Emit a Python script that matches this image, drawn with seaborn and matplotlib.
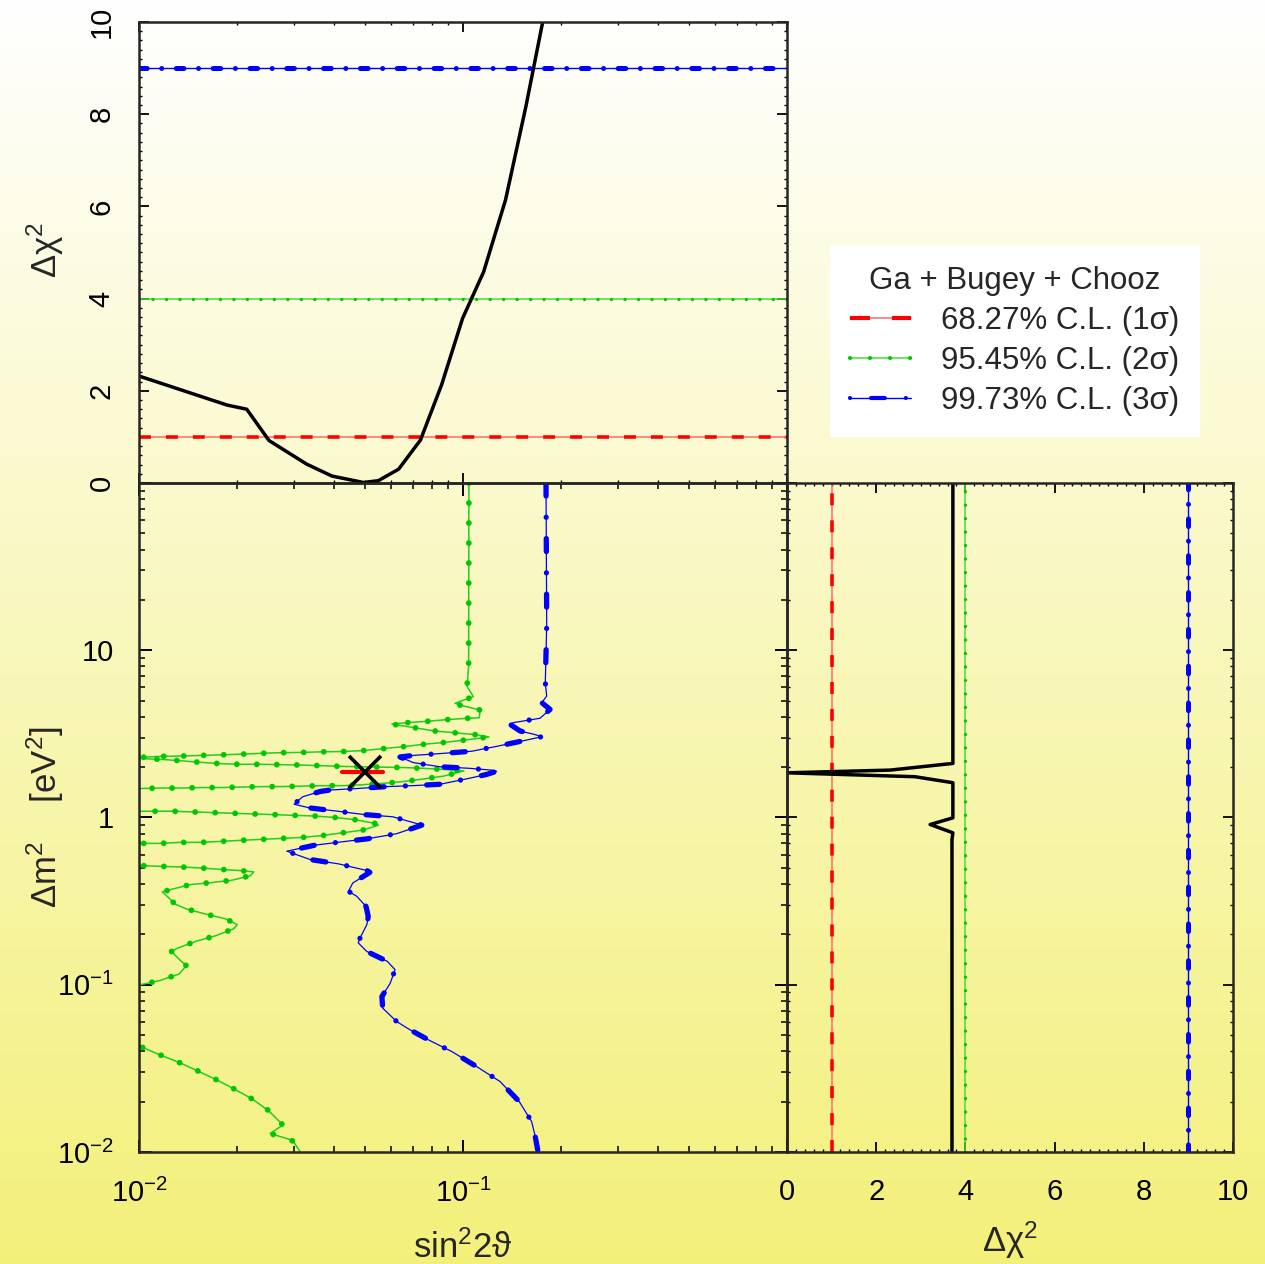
import numpy as np
import pandas as pd
import matplotlib.pyplot as plt
import matplotlib.ticker as mticker
from matplotlib.lines import Line2D
from matplotlib.colors import LinearSegmentedColormap
import seaborn as sns

# ---- values ----
# top panel: marginal delta chi^2 versus sin^2 2theta
prof_s22t = [0.0100, 0.0187, 0.0215, 0.0252, 0.0329, 0.0394, 0.0493, 0.0548, 0.0633,
             0.0739, 0.0859, 0.0997, 0.1158, 0.1353, 0.1563, 0.1762, 0.1850]
prof_chi2 = [2.32, 1.69, 1.60, 0.92, 0.41, 0.15, 0.01, 0.05, 0.30,
             0.93, 2.13, 3.57, 4.58, 6.14, 8.16, 10.0, 11.0]

# right panel: marginal delta chi^2 versus delta m^2
prof_dm2 = [100, 2.105, 1.92, 1.85, 1.753, 1.614, 0.995, 0.908, 0.81, 0.738, 0.01]
prof_chi2_dm = [3.72, 3.72, 2.31, 0.0, 2.87, 3.72, 3.72, 3.21, 3.72, 3.70, 3.70]

# 68.27% contour (tiny island around the best fit)
c1_x = [0.0423, 0.0566]
c1_y = [1.88, 1.88]

# 95.45% contour, main branch (leaves the plot at the left edge several times)
c2_x = [0.1043, 0.1041, 0.1029, 0.1076, 0.0945, 0.0979, 0.1129, 0.1123, 0.1034, 0.0897,
        0.0776, 0.0672, 0.0603, 0.0709, 0.0818, 0.0945, 0.1089, 0.1203, 0.1007, 0.0874,
        0.0756, 0.0654, 0.0566, 0.0490, 0.0425, 0.0368, 0.0318, 0.0276, 0.0238, 0.0206,
        0.0179, 0.0155, 0.0134, 0.0116, 0.0101, 0.0094,
        0.0101, 0.0115, 0.0132, 0.0153, 0.0177, 0.0204, 0.0236, 0.0272, 0.0315, 0.0364,
        0.0425, 0.0490, 0.0561, 0.0647, 0.0747, 0.0861, 0.1007, 0.0874, 0.0756, 0.0654,
        0.0566, 0.0490, 0.0425, 0.0368, 0.0318, 0.0276, 0.0238, 0.0206, 0.0179, 0.0155,
        0.0134, 0.0116, 0.0101, 0.0085,
        0.0101, 0.0110, 0.0127, 0.0146, 0.0169, 0.0195, 0.0226, 0.0261, 0.0301, 0.0349,
        0.0403, 0.0465, 0.0538, 0.0548, 0.0490, 0.0425, 0.0368, 0.0318, 0.0276, 0.0238,
        0.0206, 0.0179, 0.0155, 0.0134, 0.0116, 0.0101, 0.0085,
        0.0101, 0.0114, 0.0132, 0.0153, 0.0177, 0.0204, 0.0226, 0.0221, 0.0193, 0.0167,
        0.0144, 0.0126, 0.0118, 0.0124, 0.0129, 0.0140, 0.0160, 0.0185, 0.0201, 0.0196,
        0.0172, 0.0150, 0.0131, 0.0126, 0.0134, 0.0140, 0.0133, 0.0116, 0.0101, 0.0090]
c2_y = [100, 8.05, 6.08, 5.28, 4.82, 4.70, 4.39, 3.95, 3.92, 3.85,
        3.76, 3.69, 3.62, 3.44, 3.29, 3.21, 3.13, 3.03, 2.90, 2.81,
        2.74, 2.65, 2.58, 2.51, 2.48, 2.47, 2.45, 2.44, 2.42, 2.39,
        2.37, 2.35, 2.33, 2.32, 2.29, 2.27,
        2.25, 2.23, 2.19, 2.14, 2.10, 2.08, 2.08, 2.07, 2.06, 2.04,
        2.02, 2.01, 2.00, 1.99, 1.97, 1.94, 1.90, 1.77, 1.70, 1.64,
        1.60, 1.57, 1.55, 1.55, 1.54, 1.53, 1.53, 1.52, 1.51, 1.51,
        1.50, 1.50, 1.49, 1.25,
        1.09, 1.09, 1.09, 1.08, 1.07, 1.06, 1.05, 1.04, 1.03, 1.02,
        1.00, 0.97, 0.92, 0.90, 0.84, 0.81, 0.78, 0.76, 0.75, 0.74,
        0.73, 0.72, 0.71, 0.71, 0.70, 0.70, 0.60,
        0.516, 0.511, 0.507, 0.500, 0.490, 0.482, 0.473, 0.449, 0.421, 0.408,
        0.397, 0.372, 0.359, 0.329, 0.304, 0.284, 0.265, 0.248, 0.229, 0.216,
        0.196, 0.182, 0.165, 0.158, 0.140, 0.130, 0.116, 0.106, 0.100, 0.095]

# 95.45% contour, low delta m^2 branch
c2b_x = [0.0090, 0.0102, 0.0116, 0.0133, 0.0152, 0.0173, 0.0196, 0.0223, 0.0251, 0.0278,
         0.0254, 0.0291, 0.0299, 0.0316]
c2b_y = [0.047, 0.0424, 0.0381, 0.0343, 0.0305, 0.0271, 0.0239, 0.0208, 0.0177, 0.0145,
         0.0129, 0.0119, 0.0116, 0.0099]

# 99.73% contour
c3_x = [0.1804, 0.1813, 0.1795, 0.1813, 0.1750, 0.1857, 0.1729, 0.1430, 0.1396, 0.1500,
        0.1660, 0.1750, 0.1554, 0.1256, 0.1064, 0.0849, 0.0702, 0.0639, 0.0702, 0.0849,
        0.1038, 0.1226, 0.1270, 0.1184, 0.1038, 0.0849, 0.0700, 0.0581, 0.0472, 0.0389,
        0.0362, 0.0320, 0.0301, 0.0337, 0.0411, 0.0498, 0.0607, 0.0720, 0.0746, 0.0624,
        0.0505, 0.0422, 0.0349, 0.0286, 0.0337, 0.0413, 0.0505, 0.0516, 0.0457, 0.0443,
        0.0470, 0.0502, 0.0510, 0.0505, 0.0481, 0.0475, 0.0505, 0.0584, 0.0617, 0.0596,
        0.0562, 0.0565, 0.0624, 0.0686, 0.0781, 0.0923, 0.1102, 0.1301, 0.1492, 0.1629,
        0.1668, 0.1707]
c3_y = [100, 14.0, 6.41, 5.32, 4.86, 4.43, 3.92, 3.69, 3.61, 3.29,
        3.14, 3.04, 2.89, 2.65, 2.49, 2.41, 2.35, 2.30, 2.13, 2.01,
        1.97, 1.92, 1.89, 1.81, 1.71, 1.58, 1.55, 1.53, 1.49, 1.46,
        1.43, 1.33, 1.20, 1.14, 1.09, 1.04, 1.01, 0.92, 0.90, 0.80,
        0.745, 0.715, 0.683, 0.629, 0.561, 0.528, 0.482, 0.470, 0.406, 0.362,
        0.338, 0.294, 0.256, 0.229, 0.190, 0.178, 0.158, 0.138, 0.123, 0.102,
        0.0851, 0.0725, 0.0603, 0.0538, 0.0469, 0.0399, 0.0324, 0.0264, 0.0200, 0.0152,
        0.0126, 0.0099]

best_fit_x = [0.0498]
best_fit_y = [1.86]

cl_levels = [1.0, 4.0, 9.0]
cl_labels = ['68.27% C.L. (1σ)', '95.45% C.L. (2σ)', '99.73% C.L. (3σ)']
legend_title = 'Ga + Bugey + Chooz'

s22t_ticks = [0.01, 0.1, 1.0]
s22t_ticklabels = [r'$\mathdefault{10^{-2}}$', r'$\mathdefault{10^{-1}}$', '']
dm2_ticks = [0.01, 0.1, 1.0, 10.0, 100.0]
dm2_ticklabels = [r'$\mathdefault{10^{-2}}$', r'$\mathdefault{10^{-1}}$', '1', '10', '']
chi2_ticks = [0, 2, 4, 6, 8, 10]

# ---- style ----
sns.set_style('ticks')
plt.rcParams['font.family'] = ['Liberation Sans', 'DejaVu Sans']
plt.rcParams['mathtext.fontset'] = 'custom'
plt.rcParams['mathtext.rm'] = 'Liberation Sans'
plt.rcParams['lines.scale_dashes'] = False
plt.rcParams['axes.linewidth'] = 1.8

RED, GREEN, BLUE = '#ff0000', '#00c800', '#0000ff'
TICK_FS, LABEL_FS, LEG_FS = 21, 25, 22.5

fig = plt.figure(figsize=(12.65, 12.64), dpi=100)

# white -> yellow background gradient
bg = fig.add_axes([0, 0, 1, 1], zorder=-10)
grad = np.linspace(0, 1, 256)[:, None]
bg.imshow(grad, aspect='auto', extent=[0, 1, 0, 1], origin='upper',
          cmap=LinearSegmentedColormap.from_list('bg', ['#ffffff', '#f3f07a']))
bg.axis('off')

L, M, R = 0.1099, 0.6221, 0.9747
B, Y, T = 0.0886, 0.6179, 0.9826
ax_c = fig.add_axes([L, B, M - L, Y - B])
ax_t = fig.add_axes([L, Y, M - L, T - Y])
ax_r = fig.add_axes([M, B, R - M, Y - B])
for ax in (ax_c, ax_t, ax_r):
    ax.set_facecolor('none')

# ---- main panel: contours ----
ax_c.set_xscale('log')
ax_c.set_yscale('log')
ax_c.set_xlim(0.01, 1)
ax_c.set_ylim(0.01, 100)

for cx, cy in ((c2_x, c2_y), (c2b_x, c2b_y)):
    sns.lineplot(x=cx, y=cy, sort=False, estimator=None, ax=ax_c,
                 color='#22cc22', lw=1.1)
    sns.lineplot(x=cx, y=cy, sort=False, estimator=None, ax=ax_c,
                 color=GREEN, lw=4.2, ls=(0, (0.01, 14.4)), dash_capstyle='round')
sns.lineplot(x=c3_x, y=c3_y, sort=False, estimator=None, ax=ax_c,
             color=BLUE, lw=0.9)
sns.lineplot(x=c3_x, y=c3_y, sort=False, estimator=None, ax=ax_c,
             color=BLUE, lw=3.8, ls=(0, (9.4, 15.3, 0.01, 15.3)), dash_capstyle='round')
sns.lineplot(x=c1_x, y=c1_y, sort=False, estimator=None, ax=ax_c,
             color=RED, lw=3.0, solid_capstyle='round')
ax_c.plot(best_fit_x, best_fit_y, marker='x', ms=23, mew=2.6, color='black', ls='none')

ax_c.set_xticks(s22t_ticks)
ax_c.set_xticklabels(s22t_ticklabels)
ax_c.set_yticks(dm2_ticks)
ax_c.set_yticklabels(dm2_ticklabels)
ax_c.set_xlabel(r'$\mathdefault{sin^{2}2}$ϑ', fontsize=LABEL_FS, va='center')
ax_c.xaxis.set_label_coords(0.5, -0.1435)
ax_c.set_ylabel(r'Δ$\mathdefault{m^{2}}$    [$\mathdefault{eV^{2}}$]',
                fontsize=LABEL_FS, va='center')
ax_c.yaxis.set_label_coords(-0.145, 0.5)


def ref_lines(ax, fn):
    # 1 sigma: thin line + thick dashes
    fn(cl_levels[0], color='#ff6a6a', lw=1.1)
    fn(cl_levels[0], color=RED, lw=2.6, ls=(0, (8.6, 10.8)))
    # 2 sigma: thin line + small dots
    fn(cl_levels[1], color='#44dd44', lw=1.1)
    fn(cl_levels[1], color=GREEN, lw=2.4, ls=(0, (0.01, 9.7)), dash_capstyle='round')
    # 3 sigma: thin line + dash-dot
    fn(cl_levels[2], color=BLUE, lw=1.0)
    fn(cl_levels[2], color=BLUE, lw=3.6, ls=(0, (5.5, 10.5, 0.01, 10.5)),
       dash_capstyle='round')


# ---- top panel ----
ax_t.set_xscale('log')
ax_t.set_xlim(0.01, 1)
ax_t.set_ylim(0, 10)
ref_lines(ax_t, ax_t.axhline)
sns.lineplot(x=prof_s22t, y=prof_chi2, sort=False, estimator=None, ax=ax_t,
             color='black', lw=2.5)
ax_t.set_xticks(s22t_ticks)
ax_t.tick_params(labelbottom=False)
ax_t.set_yticks(chi2_ticks)
ax_t.yaxis.set_minor_locator(mticker.MultipleLocator(0.2))
ax_t.set_xlabel('')
ax_t.set_ylabel(r'Δ$\mathdefault{χ^{2}}$', fontsize=LABEL_FS, va='center')
ax_t.yaxis.set_label_coords(-0.145, 0.505)

# ---- right panel ----
ax_r.set_yscale('log')
ax_r.set_ylim(0.01, 100)
ax_r.set_xlim(0, 10)
ref_lines(ax_r, ax_r.axvline)
sns.lineplot(x=prof_chi2_dm, y=prof_dm2, sort=False, estimator=None, ax=ax_r,
             color='black', lw=2.5)
ax_r.set_xticks(chi2_ticks)
ax_r.xaxis.set_minor_locator(mticker.MultipleLocator(0.2))
ax_r.set_yticks(dm2_ticks)
ax_r.tick_params(labelleft=False)
ax_r.set_ylabel('')
ax_r.set_xlabel(r'Δ$\mathdefault{χ^{2}}$', fontsize=LABEL_FS, va='center')
ax_r.xaxis.set_label_coords(0.5, -0.1315)

# ---- ticks ----
for ax in (ax_c, ax_t, ax_r):
    ax.tick_params(which='both', direction='in', top=True, right=True,
                   bottom=True, left=True, colors='black', labelsize=TICK_FS)
ax_c.tick_params(which='major', length=9, width=1.4)
ax_c.tick_params(which='minor', length=4.5, width=1.1)
ax_c.tick_params(axis='x', pad=19)
ax_c.tick_params(axis='y', pad=18)
ax_t.tick_params(which='major', length=7, width=1.3)
ax_t.tick_params(which='minor', length=2.5, width=1.0)
ax_t.tick_params(axis='y', pad=17)
ax_r.tick_params(which='major', length=7, width=1.3)
ax_r.tick_params(which='minor', length=2.5, width=1.0)
ax_r.tick_params(axis='x', pad=19)
plt.setp(ax_t.get_yticklabels(), rotation=90, va='center')

# ---- legend ----
handles = [
    (Line2D([], [], color='#ff6a6a', lw=1.1),
     Line2D([], [], color=RED, lw=3.0, ls=(0, (14.4, 15.8)))),
    (Line2D([], [], color='#44dd44', lw=1.1),
     Line2D([], [], color=GREEN, lw=3.0, ls=(0, (0.01, 14.4)), dash_capstyle='round')),
    (Line2D([], [], color=BLUE, lw=1.0),
     Line2D([], [], color=BLUE, lw=3.0, ls=(0, (0.01, 15.1, 10.0, 15.1)),
            dash_capstyle='round')),
]
leg = fig.legend(handles, cl_labels, title=legend_title, loc='upper left',
                 bbox_to_anchor=(0.656, 0.806), borderaxespad=0, frameon=True,
                 fancybox=False, facecolor='white', edgecolor='white', framealpha=1,
                 fontsize=LEG_FS, title_fontsize=LEG_FS, handlelength=1.95,
                 handletextpad=0.95, borderpad=0.65, labelspacing=0.32)

fig.savefig('out.png', dpi=100)
